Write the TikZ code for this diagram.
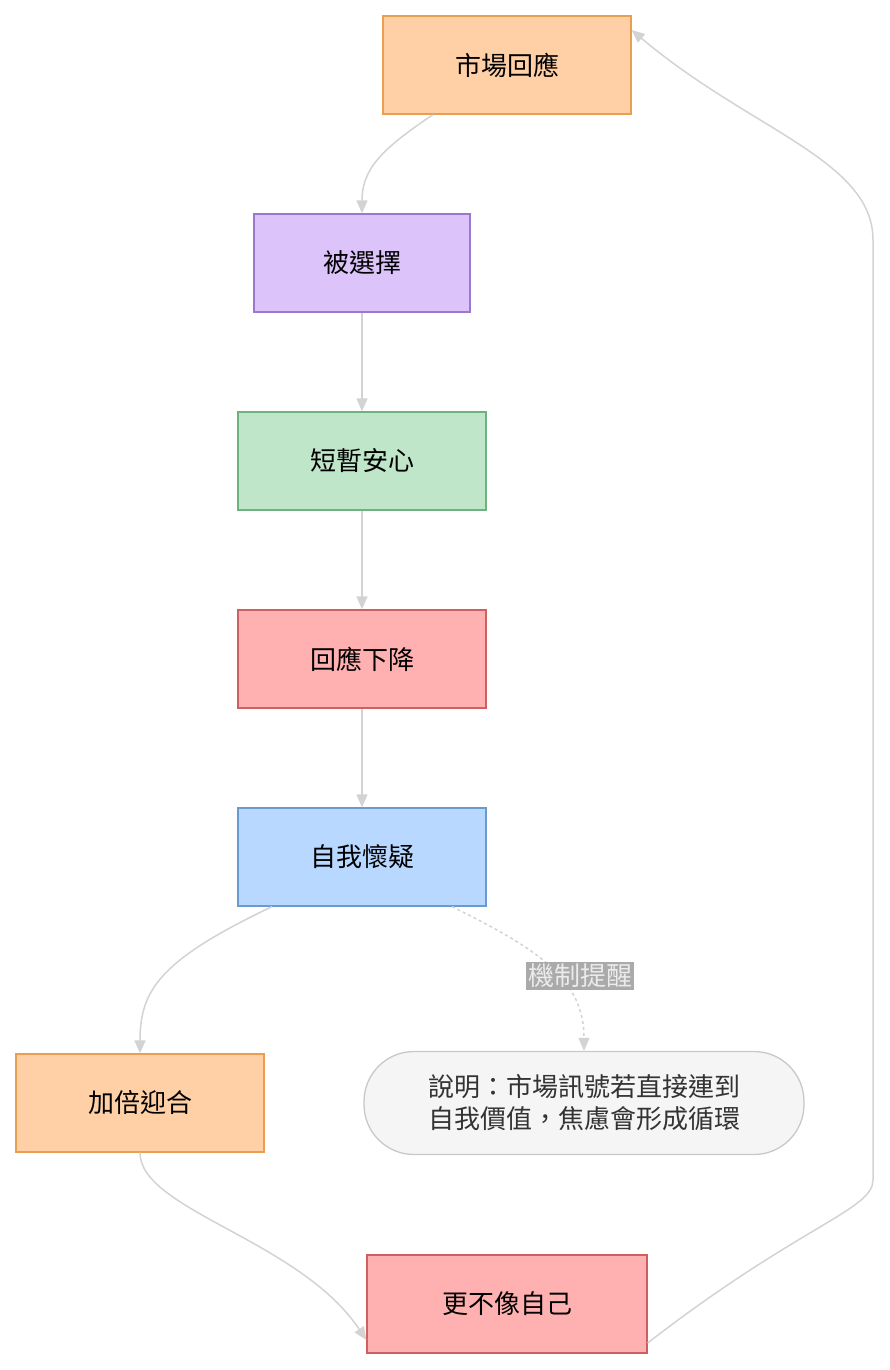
\documentclass[tikz,border=0pt]{standalone}
\usepackage{fontspec}
\setmainfont{Noto Sans CJK TC}
\usetikzlibrary{arrows.meta}
\definecolor{edge}{HTML}{D3D3D3}
\begin{document}
\begin{tikzpicture}[x=1pt,y=-1pt,
  box/.style={draw=#1!60!black!70,line width=1.3pt,minimum height=98pt,font=\fontsize{26}{30}\selectfont,inner sep=0pt},
  orange/.style={box=orange,fill={rgb,255:red,255;green,208;blue,166},draw={rgb,255:red,232;green,160;blue,80}},
  purple/.style={box=purple,fill={rgb,255:red,220;green,196;blue,251},draw={rgb,255:red,154;green,120;blue,208}},
  green/.style={box=green,fill={rgb,255:red,191;green,230;blue,201},draw={rgb,255:red,109;green,178;blue,127}},
  red/.style={box=red,fill={rgb,255:red,255;green,176;blue,176},draw={rgb,255:red,208;green,96;blue,96}},
  blue/.style={box=blue,fill={rgb,255:red,184;green,216;blue,255},draw={rgb,255:red,106;green,154;blue,208}},
  arr/.style={draw=edge,line width=1.5pt,-{Triangle[length=13pt,width=11pt]}}]
\useasboundingbox (0,0) rectangle (890,1370);
\node[orange,minimum width=248pt] (a) at (507,65) {市場回應};
\node[purple,minimum width=216pt] (b) at (362,263) {被選擇};
\node[green,minimum width=248pt] (c) at (362,461) {短暫安心};
\node[red,minimum width=248pt] (d) at (362,659) {回應下降};
\node[blue,minimum width=248pt] (e) at (362,857) {自我懷疑};
\node[orange,minimum width=248pt] (f) at (140,1103) {加倍迎合};
\node[draw={rgb,255:red,200;green,200;blue,200},fill={rgb,255:red,245;green,245;blue,245},line width=1.3pt,rounded corners=50pt,minimum width=440pt,minimum height=103pt,align=center,font=\fontsize{26}{32}\selectfont,text={rgb,255:red,51;green,51;blue,51}] (g) at (584,1103) {說明：市場訊號若直接連到\\自我價值，焦慮會形成循環};
\node[red,minimum width=280pt] (h) at (507,1304) {更不像自己};
\coordinate (r1) at (873,1180);
\coordinate (r2) at (873,240);
\draw[arr] ([xshift=-74pt]a.south) .. controls (380,150) and (362,170) .. (b.north);
\draw[arr] (b) -- (c);
\draw[arr] (c) -- (d);
\draw[arr] (d) -- (e);
\draw[arr] ([xshift=-90pt]e.south) .. controls (160,960) and (140,990) .. (f.north);
\draw[arr,dash pattern=on 3pt off 3pt] ([xshift=90pt]e.south) .. controls (540,950) and (584,980) .. (g.north);
\node[fill={rgb,255:red,170;green,170;blue,170},text={rgb,255:red,235;green,235;blue,235},font=\fontsize{26}{30}\selectfont,inner sep=2pt] (lbl) at (580,976) {機制提醒};
\draw[arr] (f.south) .. controls (140,1210) and (300,1240) .. ([yshift=-36pt]h.west);
\draw[arr] ([yshift=-39pt]h.east) .. controls (800,1225) and (873,1210) .. (r1) -- (r2) .. controls (873,160) and (750,130) .. ([yshift=35pt]a.east);
\end{tikzpicture}
\end{document}
